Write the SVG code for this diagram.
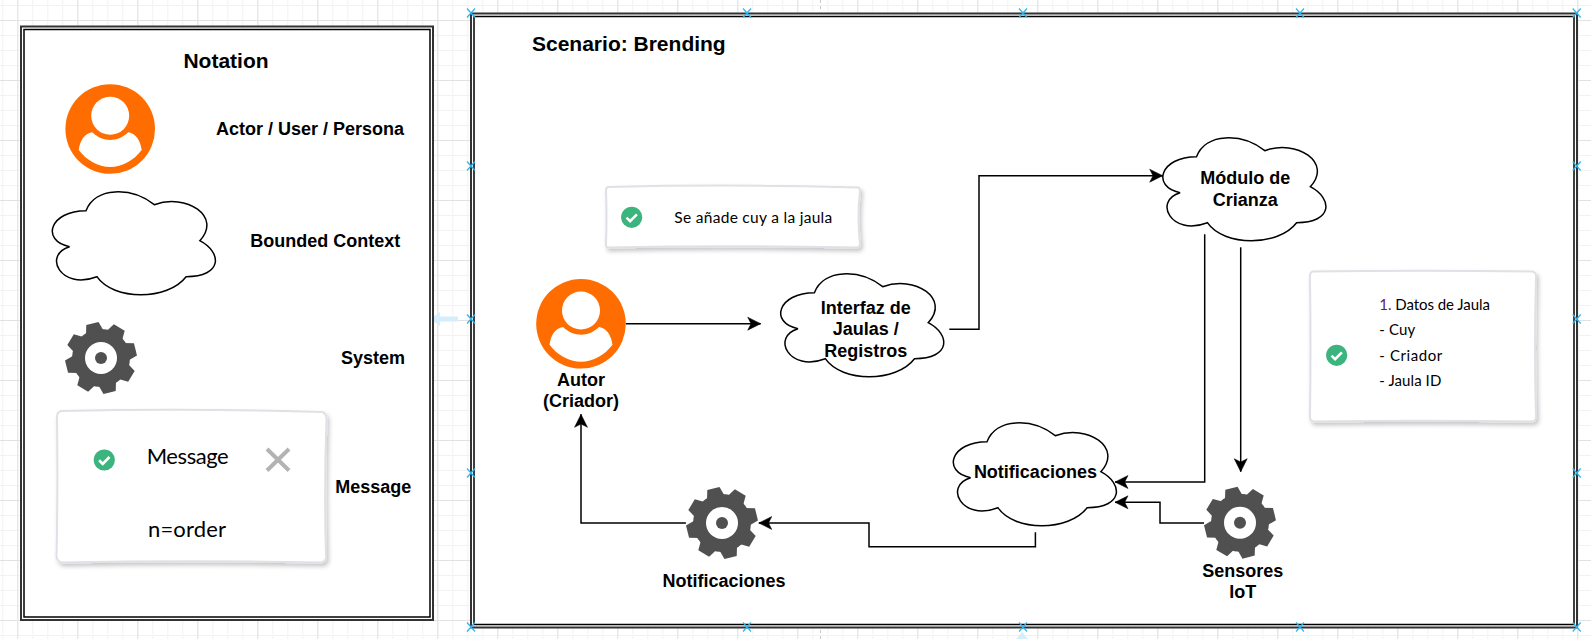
<svg xmlns="http://www.w3.org/2000/svg" xmlns:xlink="http://www.w3.org/1999/xlink" width="1591" height="639" viewBox="0 0 1591 639">
<style>
.lbl{font-family:"Liberation Sans",Arial,sans-serif;font-weight:700;font-size:18px;fill:#000;text-anchor:middle}
.title{font-size:21px}
.hand{font-family:"Lato","Open Sans",sans-serif;font-weight:400;fill:#000}
.cloud{fill:#fff;stroke:#000;stroke-width:1.5}
.card{fill:#fff;stroke:#e0e0e6;stroke-width:2;filter:url(#sh)}
.conn{fill:none;stroke:#000;stroke-width:1.5;marker-end:url(#arr)}
.frameO{fill:#fff;stroke:#333;stroke-width:2}
.frameI{fill:none;stroke:#000;stroke-width:1.5}
.mark{fill:none;stroke:#29b6f2;stroke-width:1.2}
</style>
<defs>
<pattern id="gridMinor" width="15" height="15" patternUnits="userSpaceOnUse" patternTransform="translate(2.3 5)"><path d="M15 .5H.5V15" fill="none" stroke="#f2f2f2" stroke-width="1"/></pattern>
<pattern id="gridMajor" width="60" height="60" patternUnits="userSpaceOnUse" patternTransform="translate(17.3 20)"><path d="M60 .5H.5V60" fill="none" stroke="#e2e2e2" stroke-width="1"/></pattern>
<filter id="sh" x="-10%" y="-10%" width="125%" height="125%"><feDropShadow dx="2" dy="3" stdDeviation="2" flood-color="#000" flood-opacity=".22"/></filter>
<marker id="arr" markerUnits="userSpaceOnUse" markerWidth="16" markerHeight="16" refX="13.5" refY="8" orient="auto" viewBox="0 0 16 16"><path d="M0.5 1.5L13.5 8L0.5 14.5L3.8 8Z" fill="#000" stroke="#000" stroke-width=".5"/></marker>
<path id="cl" class="cloud" d="M45.5 30C9.1 30 0 60 29.1 66C2 74 20 110 56.4 96C72.8 120 127.4 120 145.6 96C182 96 182 72 159.3 60C182 36 145.6 12 113.8 24C91 6 54.6 6 45.5 30Z"/>
<g id="person"><circle r="44.8" fill="#ff6d00"/><circle cy="-13.3" r="19" fill="#fff"/><path fill="#fff" d="M-31.5 21C-30 11-26 5-18 3.3C-12 9-6 11 0 11C6 11 12 9 18 3.3C26 5 30 11 31.5 21C24 31 12 38 0 38C-12 38-24 31-31.5 21Z"/></g>
<polygon id="tooth" fill="#505050" points="-6.3,-35.5 6.3,-35.5 9,-26 -9,-26"/>
<g id="gear"><circle r="29" fill="#505050"/>
<use xlink:href="#tooth" transform="rotate(-14)"/><use xlink:href="#tooth" transform="rotate(31)"/><use xlink:href="#tooth" transform="rotate(76)"/><use xlink:href="#tooth" transform="rotate(121)"/><use xlink:href="#tooth" transform="rotate(166)"/><use xlink:href="#tooth" transform="rotate(211)"/><use xlink:href="#tooth" transform="rotate(256)"/><use xlink:href="#tooth" transform="rotate(301)"/>
<circle r="16" fill="#fff"/><circle r="6" fill="#505050"/></g>
<g id="check"><circle r="10.6" fill="#3cb47e"/><path d="M-5.2 .3L-1.6 3.8L5.2 -3" fill="none" stroke="#fff" stroke-width="2.6"/></g>
<path id="x" d="M-4 -4.5L4 4.5M-4 4.5L4 -4.5" class="mark"/>
</defs>

<rect width="1591" height="639" fill="#fff"/>
<rect width="1591" height="639" fill="url(#gridMinor)"/>
<rect width="1591" height="639" fill="url(#gridMajor)"/>
<path d="M430 319L440 312V316.5H458V321.5H440V326Z" fill="#d6eefb"/>
<path d="M1022 632L1016 639H1028Z" fill="#d6eefb"/>
<path d="M820.5 0V12M820.5 630V639" fill="none" stroke="#c8c8c8" stroke-dasharray="3 3"/>

<g id="frame-notation"><rect class="frameO" x="21" y="26.5" width="412" height="593.5"/><rect class="frameI" x="24" y="29.5" width="406" height="587.5"/>
<text class="lbl title" x="226" y="67.5">Notation</text></g>
<g id="frame-scenario"><rect class="frameO" x="471" y="13.5" width="1106" height="614"/><rect class="frameI" x="474" y="16.5" width="1100" height="608"/>
<text class="lbl title" x="532" y="50.7" style="text-anchor:start">Scenario: Brending</text>
<use xlink:href="#x" x="471" y="13"/><use xlink:href="#x" x="747" y="13"/><use xlink:href="#x" x="1023" y="13"/><use xlink:href="#x" x="1300" y="13"/><use xlink:href="#x" x="1576.7" y="13"/>
<use xlink:href="#x" x="471" y="166"/><use xlink:href="#x" x="1576.7" y="166"/><use xlink:href="#x" x="471" y="319"/><use xlink:href="#x" x="1576.7" y="319"/><use xlink:href="#x" x="471" y="473"/><use xlink:href="#x" x="1576.7" y="473"/>
<use xlink:href="#x" x="471" y="627"/><use xlink:href="#x" x="747" y="627"/><use xlink:href="#x" x="1023" y="627"/><use xlink:href="#x" x="1300" y="627"/><use xlink:href="#x" x="1576.7" y="627"/></g>

<g id="legend-actor"><use xlink:href="#person" x="110.2" y="129"/><text class="lbl" x="310" y="135">Actor / User / Persona</text></g>
<g id="legend-context"><use xlink:href="#cl" x="40.5" y="180.7"/><text class="lbl" x="325.3" y="247">Bounded Context</text></g>
<g id="legend-system"><use xlink:href="#gear" x="101" y="358"/><text class="lbl" x="373" y="364">System</text></g>
<g id="legend-message"><path class="card" d="M61 411Q190 408 322 412Q326 413 326.500 418Q324 490 326 558Q325 562 321 562.500Q190 560 62 562.500Q58 562 56.500 557Q58 490 57 417Q57 412 61 411Z"/><use xlink:href="#check" x="104.3" y="460"/>
<text class="hand" x="146.7" y="464" font-size="22" textLength="82">Message</text>
<path d="M267 449L289 470.5M289 449L267 470.5" fill="none" stroke="#b3b3b3" stroke-width="4"/>
<text class="hand" x="148" y="536.7" font-size="22" textLength="78">n=order</text>
<text class="lbl" x="373.2" y="493">Message</text></g>

<g id="msg-cuy"><path class="card" d="M608 187Q730 184 858 187.500Q860 188 860 191Q857 217 860 244Q860 247 857 247.500Q730 245 607 247.500Q606 247 606 244Q607 217 606 190Q606 188 608 187Z"/><use xlink:href="#check" x="631.7" y="217.3"/>
<text class="hand" x="674.3" y="223.3" font-size="15.5" textLength="158">Se añade cuy a la jaula</text></g>
<g id="msg-datos"><path class="card" d="M1313 271.500Q1420 270 1532 271.500Q1536 272 1536 276Q1534 350 1536 417Q1536 421 1532 421.500Q1420 420 1314 421.500Q1310 421 1310 417Q1311 350 1310 276Q1310 272 1313 271.500Z"/><use xlink:href="#check" x="1336.7" y="355.3"/>
<text class="hand" x="1379.3" y="310" font-size="15" textLength="110.7"><tspan fill="#5b1a6e">1.</tspan> Datos de Jaula</text>
<text class="hand" x="1379.3" y="335" font-size="15" textLength="36">- Cuy</text>
<text class="hand" x="1379.3" y="360.7" font-size="15" textLength="63">- Criador</text>
<text class="hand" x="1379.3" y="386" font-size="15" textLength="62">- Jaula ID</text></g>

<g id="connectors">
<path class="conn" d="M626 323.7H760.7"/>
<path class="conn" d="M949.3 329.3H979V175.7H1162.7"/>
<path class="conn" d="M1204.7 234.3V482H1115"/>
<path class="conn" d="M1240.7 247.3V471.7"/>
<path class="conn" d="M1204 523H1160V502.3H1115"/>
<path class="conn" d="M1035.4 532.3V546.7H869V523H758.8"/>
<path class="conn" d="M685.9 523H581V414.3"/>
</g>

<g id="autor"><use xlink:href="#person" x="581" y="323.8"/><text class="lbl" x="581" y="386">Autor</text><text class="lbl" x="581" y="407.3">(Criador)</text></g>
<g id="interfaz"><use xlink:href="#cl" x="768.9" y="262.7"/><text class="lbl" x="865.7" y="314">Interfaz de</text><text class="lbl" x="865.7" y="335.3">Jaulas /</text><text class="lbl" x="865.7" y="357">Registros</text></g>
<g id="modulo"><use xlink:href="#cl" x="1151" y="126.7"/><text class="lbl" x="1245.3" y="184">Módulo de</text><text class="lbl" x="1245.3" y="206">Crianza</text></g>
<g id="notif-context"><use xlink:href="#cl" x="941.5" y="411.7"/><text class="lbl" x="1035.4" y="478.3">Notificaciones</text></g>
<g id="notif-system"><use xlink:href="#gear" x="722" y="523"/><text class="lbl" x="724" y="586.7">Notificaciones</text></g>
<g id="sensores"><use xlink:href="#gear" x="1240" y="522.7"/><text class="lbl" x="1242.7" y="576.7">Sensores</text><text class="lbl" x="1242.7" y="597.7">IoT</text></g>
</svg>
